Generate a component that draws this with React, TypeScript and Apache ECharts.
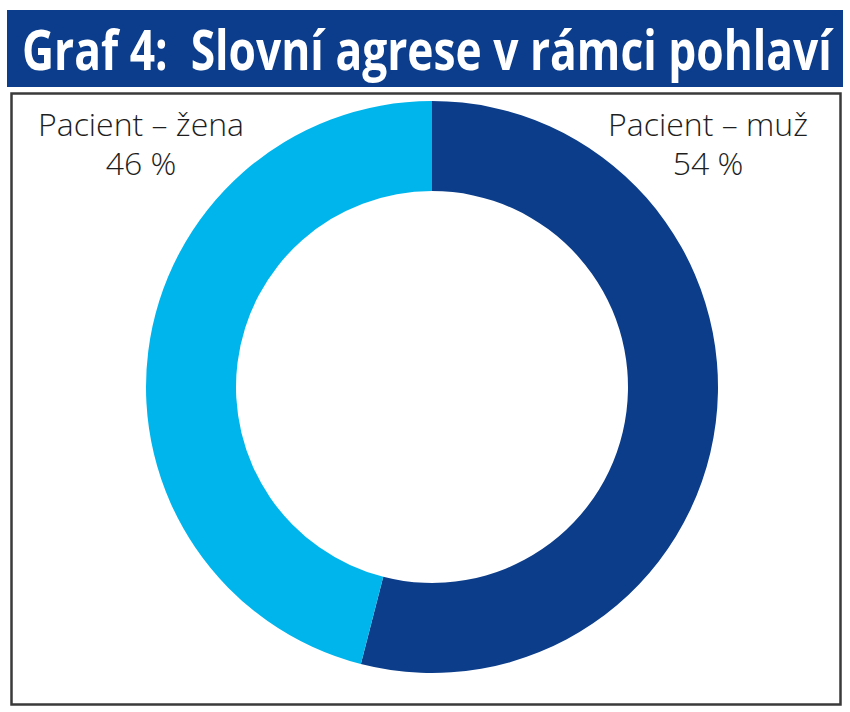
import React, { useEffect, useRef } from "react";
import * as echarts from "echarts";

const titleText = "Graf 4:  Slovní agrese v rámci pohlaví";
const categories = ["Pacient – muž", "Pacient – žena"];
const values = [54, 46];
const colors = ["#0b3d8a", "#00b5ec"];
const labelPos = [
  { x: 708, y: 104 },
  { x: 141, y: 104 },
];

export default function App() {
  const ref = useRef<HTMLDivElement>(null);
  useEffect(() => {
    if (!ref.current) return;
    const chart = echarts.init(ref.current, null, { renderer: "svg" });
    const titleFont = "bold 55px 'Open Sans'";
    let scaleX = 0.72;
    try {
      const ctx = document.createElement("canvas").getContext("2d");
      if (ctx) {
        ctx.font = titleFont;
        const w = ctx.measureText(titleText).width;
        if (w > 0) scaleX = 810 / w;
      }
    } catch (e) {}
    chart.setOption({
      animation: false,
      backgroundColor: "#ffffff",
      graphic: [
        {
          type: "rect",
          shape: { x: 7, y: 10, width: 836, height: 77 },
          style: { fill: "#0b3d8c" },
          silent: true,
        },
        {
          type: "text",
          x: 22,
          y: 49,
          scaleX: scaleX,
          style: {
            text: titleText,
            font: titleFont,
            fill: "#ffffff",
            textAlign: "left",
            textVerticalAlign: "middle",
          },
          silent: true,
        },
        {
          type: "rect",
          shape: { x: 11.5, y: 93.5, width: 829, height: 611 },
          style: { fill: "none", stroke: "#3a3a3a", lineWidth: 2.5 },
          silent: true,
        },
      ],
      series: [
        {
          type: "pie",
          center: [432, 387],
          radius: [196, 286],
          startAngle: 90,
          clockwise: true,
          silent: true,
          data: categories.map((c, i) => ({
            name: c,
            value: values[i],
            itemStyle: { color: colors[i] },
          })),
          label: {
            show: true,
            position: "outside",
            formatter: (p: any) => `${p.name}\n${p.value} %`,
            fontFamily: "'Open Sans'",
            fontWeight: 300,
            fontSize: 32,
            lineHeight: 39,
            color: "#1e1e1e",
            align: "center",
            overflow: "none",
            width: 400,
          },
          labelLine: { show: false },
          labelLayout: (p: any) => ({
            x: labelPos[p.dataIndex].x,
            y: labelPos[p.dataIndex].y,
            align: "center",
            verticalAlign: "top",
          }),
        },
      ],
    });
    return () => chart.dispose();
  }, []);
  return (
    <div
      ref={ref}
      style={{ position: "absolute", left: 0, top: 0, width: 850, height: 712 }}
    />
  );
}
